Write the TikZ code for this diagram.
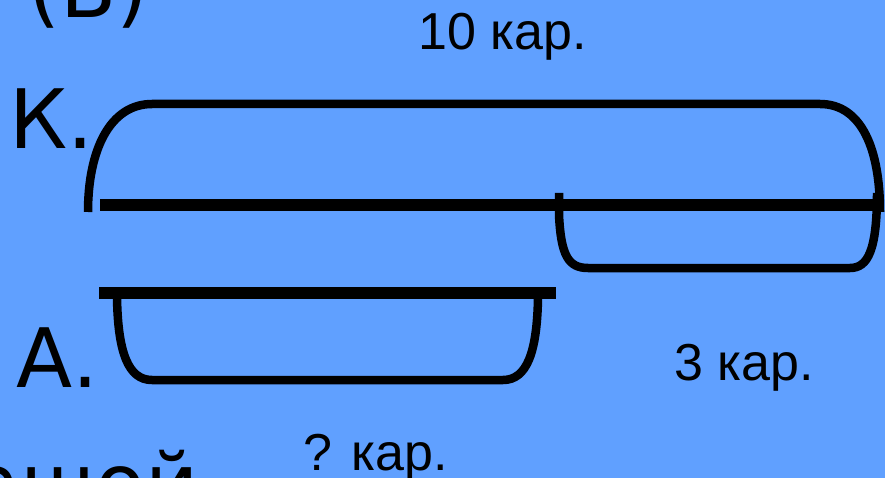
\documentclass[tikz,border=0pt]{standalone}
\usepackage{fontspec}
\setmainfont{Liberation Sans}
\newfontfamily\djv{DejaVu Sans}
\definecolor{bgblue}{RGB}{96,160,255}
\begin{document}
\begin{tikzpicture}[x=1pt,y=-1pt,
  brace/.style={line width=8.5pt, line join=round},
  bar/.style={line width=12pt},
  lbl/.style={inner sep=0pt, anchor=base west, font=\fontsize{52}{52}\selectfont},
  big/.style={inner sep=0pt, anchor=base west, font=\djv\fontsize{82}{82}\selectfont}]
\useasboundingbox (0,0) rectangle (885,478);
\clip (0,0) rectangle (885,478);
\fill[bgblue] (0,0) rectangle (885,478);
% K brace
\draw[brace] (88,212) .. controls (88,150) and (110,104) .. (152,104) -- (820,104) .. controls (862,104) and (880,150) .. (880,212);
\draw[bar] (100,205) -- (875,205);
% 3 kar brace
\draw[brace] (559,193) -- (559,215) .. controls (561,255) and (568,268) .. (588,268) -- (850,268) .. controls (868,268) and (877,250) .. (877,193);
% A
\draw[bar] (99,293) -- (556,293);
\draw[brace] (117,298) .. controls (118,352) and (128,380) .. (152,380) -- (503,380) .. controls (527,380) and (537,352) .. (538,298);
% texts
\node[lbl] (t10) at (418,50) {10 кар.};
\node[lbl] (t3) at (674,380) {3 кар.};
\node[lbl] (tq) at (303,470) {? кар.};
\node[big] (tK) at (9,149) {К.};
\node[big] (tA) at (16,387) {А.};
\node[big] (tB) at (28,18) {(В)};
\node[big] (tw) at (-30,512) {ашой};
\end{tikzpicture}
\end{document}
